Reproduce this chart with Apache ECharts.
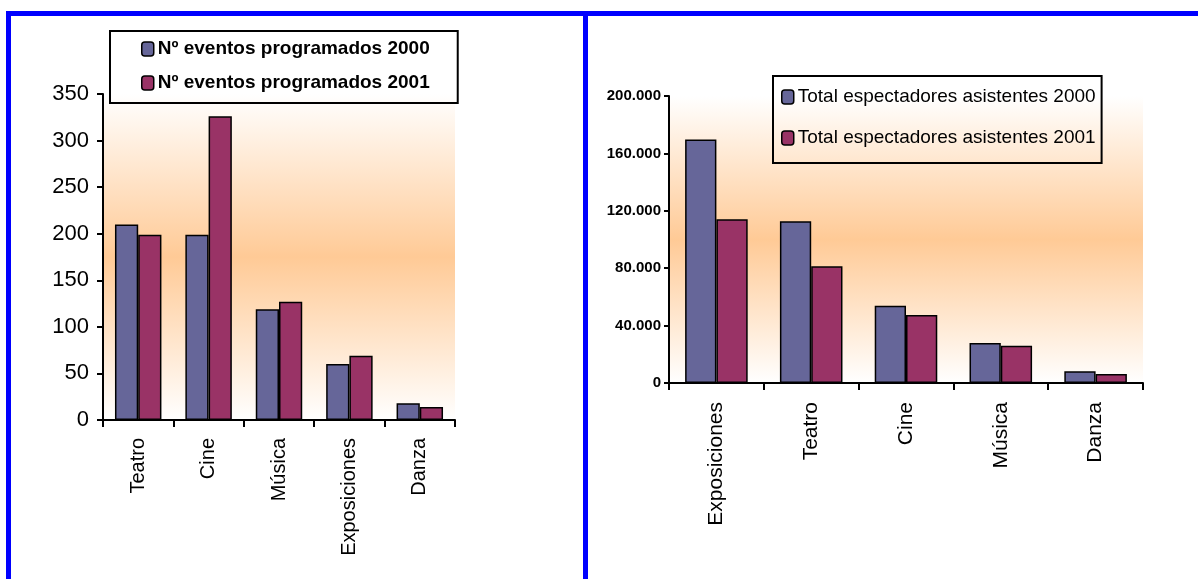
<!DOCTYPE html>
<html>
<head>
<meta charset="utf-8">
<script src="https://cdn.jsdelivr.net/npm/echarts@6/dist/echarts.min.js"></script>
<style>
html,body{margin:0;padding:0;background:#fff;}
#chart{width:1198px;height:579px;}
</style>
</head>
<body>
<div id="chart"></div>
<script>
// ---- data ----
var catsLeft = ['Teatro', 'Cine', 'Música', 'Exposiciones', 'Danza'];
var eventos2000 = [210, 199, 119, 60, 18];
var eventos2001 = [199, 326, 127, 69, 14];
var catsRight = ['Exposiciones', 'Teatro', 'Cine', 'Música', 'Danza'];
var espect2000 = [169600, 112700, 53900, 27900, 8200];
var espect2001 = [114100, 81300, 47400, 26000, 6300];
var nameL1 = 'Nº eventos programados 2000';
var nameL2 = 'Nº eventos programados 2001';
var nameR1 = 'Total espectadores asistentes 2000';
var nameR2 = 'Total espectadores asistentes 2001';

var FONT = 'Arial, "Liberation Sans", sans-serif';
var C1 = '#666699', C2 = '#993366';

function grad() {
  return {type: 'linear', x: 0, y: 0, x2: 0, y2: 1, colorStops: [
    {offset: 0, color: '#FFFFFF'},
    {offset: 0.5, color: '#FFCA96'},
    {offset: 1, color: '#FFFFFF'}
  ]};
}
function fmtThousands(v) {
  return String(v).replace(/\B(?=(\d{3})+(?!\d))/g, '.');
}
var axisLine = {show: true, lineStyle: {color: '#000', width: 2}};
var barStyle = function (c) { return {color: c, borderColor: '#000', borderWidth: 1.5}; };

var chart = echarts.init(document.getElementById('chart'), null, {renderer: 'canvas'});
chart.setOption({
  animation: false,
  backgroundColor: '#fff',
  graphic: [
    {type: 'rect', shape: {x: 6, y: 11, width: 1192, height: 5}, style: {fill: '#0000FF'}},
    {type: 'rect', shape: {x: 6, y: 11, width: 5, height: 568}, style: {fill: '#0000FF'}},
    {type: 'rect', shape: {x: 583, y: 11, width: 5, height: 568}, style: {fill: '#0000FF'}}
  ],
  grid: [
    {left: 103, right: 743, top: 94, bottom: 159, show: true, backgroundColor: grad(), borderWidth: 0, containLabel: false},
    {left: 669, right: 55, top: 96, bottom: 196, show: true, backgroundColor: grad(), borderWidth: 0, containLabel: false}
  ],
  legend: [
    {
      data: [nameL1, nameL2], orient: 'vertical', left: 110, top: 31,
      padding: [8, 28, 10, 31], itemGap: 14, itemWidth: 12, itemHeight: 14,
      borderColor: '#000', borderWidth: 2, backgroundColor: 'transparent',
      itemStyle: {borderColor: '#000', borderWidth: 1.5},
      textStyle: {fontFamily: FONT, fontSize: 19, fontWeight: 'bold', color: '#000', lineHeight: 20, padding: [0, 0, 0, -1]},
      selectedMode: false
    },
    {
      data: [nameR1, nameR2], orient: 'vertical', left: 773, top: 76,
      padding: [11, 6, 15, 8], itemGap: 21, itemWidth: 12, itemHeight: 14,
      borderColor: '#000', borderWidth: 2, backgroundColor: 'transparent',
      itemStyle: {borderColor: '#000', borderWidth: 1.5},
      textStyle: {fontFamily: FONT, fontSize: 19, color: '#000', lineHeight: 20, padding: [0, 0, 0, -1]},
      selectedMode: false
    }
  ],
  xAxis: [
    {
      type: 'category', gridIndex: 0, data: catsLeft, boundaryGap: true,
      axisLine: axisLine,
      axisTick: {show: true, length: 7, lineStyle: {color: '#000', width: 2}},
      axisLabel: {rotate: 90, margin: 18, fontFamily: FONT, fontSize: 20, color: '#000', interval: 0}
    },
    {
      type: 'category', gridIndex: 1, data: catsRight, boundaryGap: true,
      axisLine: axisLine,
      axisTick: {show: true, length: 7, lineStyle: {color: '#000', width: 2}},
      axisLabel: {rotate: 90, margin: 19, fontFamily: FONT, fontSize: 21, color: '#000', interval: 0}
    }
  ],
  yAxis: [
    {
      type: 'value', gridIndex: 0, min: 0, max: 350, interval: 50,
      axisLine: axisLine, splitLine: {show: false},
      axisTick: {show: true, length: 6, lineStyle: {color: '#000', width: 2}},
      axisLabel: {margin: 14, fontFamily: FONT, fontSize: 22, color: '#000'}
    },
    {
      type: 'value', gridIndex: 1, min: 0, max: 200000, interval: 40000,
      axisLine: axisLine, splitLine: {show: false},
      axisTick: {show: true, length: 5, lineStyle: {color: '#000', width: 2}},
      axisLabel: {margin: 8, fontFamily: FONT, fontSize: 15, fontWeight: 'bold', color: '#000', formatter: fmtThousands}
    }
  ],
  series: [
    {name: nameL1, type: 'bar', xAxisIndex: 0, yAxisIndex: 0, data: eventos2000, barGap: '0%', barCategoryGap: '34%', itemStyle: barStyle(C1)},
    {name: nameL2, type: 'bar', xAxisIndex: 0, yAxisIndex: 0, data: eventos2001, barGap: '0%', barCategoryGap: '34%', itemStyle: barStyle(C2)},
    {name: nameR1, type: 'bar', xAxisIndex: 1, yAxisIndex: 1, data: espect2000, barGap: '0%', barCategoryGap: '34%', itemStyle: barStyle(C1)},
    {name: nameR2, type: 'bar', xAxisIndex: 1, yAxisIndex: 1, data: espect2001, barGap: '0%', barCategoryGap: '34%', itemStyle: barStyle(C2)}
  ]
});
</script>
</body>
</html>
